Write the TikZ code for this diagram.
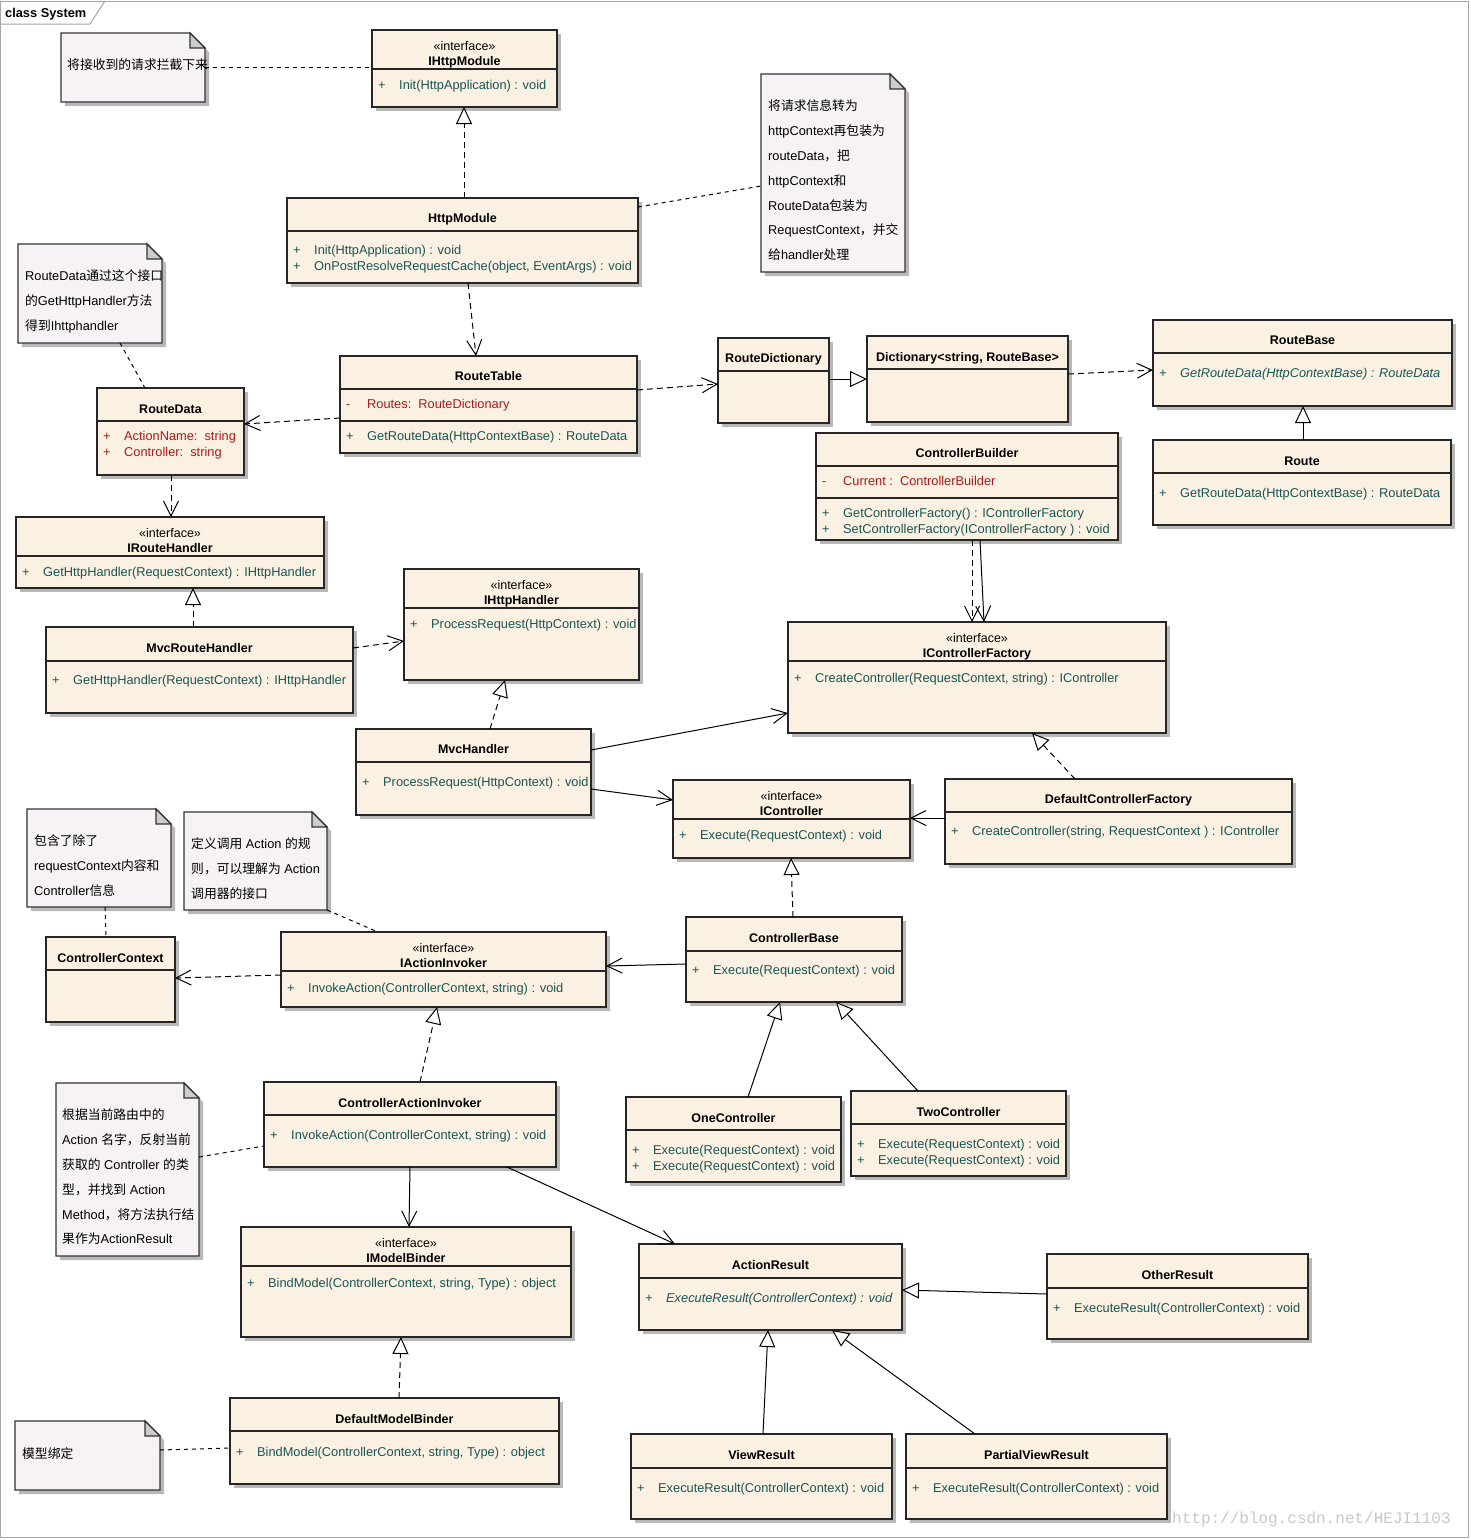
\documentclass[tikz,border=0pt]{standalone}
\usepackage{fontspec}
\setmainfont{Liberation Sans}
\newfontfamily\cjk{Noto Sans CJK SC}
\newfontfamily\wmfont{Liberation Mono}
\usetikzlibrary{arrows.meta,shadows,calc}
\definecolor{boxfill}{RGB}{251,241,226}
\definecolor{notefill}{RGB}{246,242,246}
\definecolor{opcol}{RGB}{25,85,85}
\definecolor{attcol}{RGB}{170,25,25}
\definecolor{foldcol}{RGB}{205,205,205}
\newcommand{\zh}[1]{{\cjk #1}}
\newcounter{lc}
\newcommand{\ucls}[5]{\node[cls,anchor=north west,minimum width={(#4-#2)*1pt},minimum height={(#5-#3)*1pt}] (#1) at (#2,#3) {};}
\newcommand{\hsep}[2]{\draw[sepl] (#1.west |- 0,#2) -- (#1.east |- 0,#2);}
\newcommand{\ctitle}[3]{\stepcounter{lc}\node[ttlst] (l\arabic{lc}) at (#1.north |- 0,#2) {#3};}
\newcommand{\cster}[2]{\stepcounter{lc}\node[sterst] (l\arabic{lc}) at (#1.north |- 0,#2) {«interface»};}
\newcommand{\crow}[5][opst]{\stepcounter{lc}\node[#1] (l\arabic{lc}) at ($(#2.west |- 0,#3)+(6,0)$) {#4};\stepcounter{lc}\node[#1] (l\arabic{lc}) at ($(#2.west |- 0,#3)+(27,0)$) {#5};}
\newcommand{\unote}[5]{%
 \node[inner sep=0pt,outer sep=0pt,anchor=north west,minimum width={(#4-#2)*1pt},minimum height={(#5-#3)*1pt}] (#1) at (#2,#3) {};
 \fill[black,opacity=0.28] ($(#1.north west)+(4,4)$) -- ($(#1.north east)+(-11,4)$) -- ($(#1.north east)+(4,19)$) -- ($(#1.south east)+(4,4)$) -- ($(#1.south west)+(4,4)$) -- cycle;
 \filldraw[notest] (#1.north west) -- ($(#1.north east)+(-15,0)$) -- ($(#1.north east)+(0,15)$) -- (#1.south east) -- (#1.south west) -- cycle;
 \filldraw[notest,fill=foldcol] ($(#1.north east)+(-15,0)$) -- ($(#1.north east)+(-15,15)$) -- ($(#1.north east)+(0,15)$) -- cycle;}
\newcommand{\ntext}[3]{\stepcounter{lc}\node[notetx] (l\arabic{lc}) at (#1,#2) {#3};}
\tikzset{
 cls/.style={draw=black!85,line width=1.2pt,fill=boxfill,inner sep=0pt,outer sep=0pt,
   drop shadow={shadow xshift=4pt,shadow yshift=-4pt,fill=black,opacity=0.28}},
 sepl/.style={draw=black!85,line width=1.2pt},
 ttlst/.style={font=\bfseries\fontsize{12.5}{14}\selectfont,inner sep=0pt,anchor=mid,yshift=-3pt},
 sterst/.style={font=\fontsize{12.5}{14}\selectfont,inner sep=0pt,anchor=mid,yshift=-3pt},
 opst/.style={font=\fontsize{12.8}{14}\selectfont,text=opcol,inner sep=0pt,anchor=mid west,yshift=-3pt},
 opit/.style={opst,font=\itshape\fontsize{12.8}{14}\selectfont},
 attst/.style={opst,text=attcol},
 notest/.style={draw=black!80,line width=1.1pt,fill=notefill},
 notetx/.style={font=\fontsize{12.8}{14}\selectfont,inner sep=0pt,anchor=mid west,text=black,yshift=-3pt},
 dep/.style={line width=1pt,dash pattern=on 6pt off 4pt,-{Straight Barb[length=15pt,width=15pt]}},
 assoc/.style={line width=1pt,-{Straight Barb[length=15pt,width=15pt]}},
 realz/.style={line width=1pt,dash pattern=on 6pt off 4pt,-{Triangle[length=17pt,width=16pt,fill=white]}},
 genz/.style={line width=1pt,-{Triangle[length=17pt,width=16pt,fill=white]}},
 notel/.style={line width=1pt,dash pattern=on 4pt off 4pt},
 framel/.style={draw=black!35,line width=1pt}
}
\begin{document}
\begin{tikzpicture}[x=1pt,y=-1pt]
\useasboundingbox (0,0) rectangle (1471,1540);
% frame
\draw[framel] (0.5,1) rectangle (1468,1537);
\draw[framel] (0.5,24) -- (90,24) -- (105,1);
\node[font=\bfseries\fontsize{12.8}{14}\selectfont,inner sep=0pt,anchor=mid west,yshift=-3pt] (frametitle) at (5,12) {class System};

% ---------- classes ----------
\ucls{ihm}{372}{30}{557}{107}
\cster{ihm}{45}\ctitle{ihm}{60}{IHttpModule}\hsep{ihm}{69}
\crow{ihm}{84}{+}{Init(HttpApplication) : void}

\ucls{hm}{287}{198}{638}{283}
\ctitle{hm}{217}{HttpModule}\hsep{hm}{231}
\crow{hm}{249}{+}{Init(HttpApplication) : void}
\crow{hm}{265}{+}{OnPostResolveRequestCache(object, EventArgs) : void}

\ucls{rt}{340}{356}{637}{453}
\ctitle{rt}{375}{RouteTable}\hsep{rt}{389}
\crow[attst]{rt}{403}{-}{Routes:~~RouteDictionary}\hsep{rt}{421}
\crow{rt}{435}{+}{GetRouteData(HttpContextBase) : RouteData}

\ucls{rd}{97}{388}{244}{475}
\ctitle{rd}{408}{RouteData}\hsep{rd}{421}
\crow[attst]{rd}{435}{+}{ActionName:~~string}
\crow[attst]{rd}{451}{+}{Controller:~~string}

\ucls{rdict}{718}{338}{829}{423}
\ctitle{rdict}{357}{RouteDictionary}\hsep{rdict}{371}

\ucls{dict}{867}{336}{1068}{422}
\ctitle{dict}{356}{Dictionary<string, RouteBase>}\hsep{dict}{369}

\ucls{rb}{1153}{320}{1452}{406}
\ctitle{rb}{339}{RouteBase}\hsep{rb}{353}
\crow[opit]{rb}{372}{+}{GetRouteData(HttpContextBase) : RouteData}

\ucls{route}{1153}{440}{1451}{525}
\ctitle{route}{460}{Route}\hsep{route}{473}
\crow{route}{492}{+}{GetRouteData(HttpContextBase) : RouteData}

\ucls{cb}{816}{433}{1118}{540}
\ctitle{cb}{452}{ControllerBuilder}\hsep{cb}{466}
\crow[attst]{cb}{480}{-}{Current :~~ControllerBuilder}\hsep{cb}{498}
\crow{cb}{512}{+}{GetControllerFactory() : IControllerFactory}
\crow{cb}{528}{+}{SetControllerFactory(IControllerFactory ) : void}

\ucls{irh}{16}{517}{324}{588}
\cster{irh}{532}\ctitle{irh}{547}{IRouteHandler}\hsep{irh}{556}
\crow{irh}{571}{+}{GetHttpHandler(RequestContext) : IHttpHandler}

\ucls{mrh}{46}{627}{353}{713}
\ctitle{mrh}{647}{MvcRouteHandler}\hsep{mrh}{661}
\crow{mrh}{679}{+}{GetHttpHandler(RequestContext) : IHttpHandler}

\ucls{ihh}{404}{569}{639}{680}
\cster{ihh}{584}\ctitle{ihh}{599}{IHttpHandler}\hsep{ihh}{608}
\crow{ihh}{623}{+}{ProcessRequest(HttpContext) : void}

\ucls{mh}{356}{729}{591}{815}
\ctitle{mh}{748}{MvcHandler}\hsep{mh}{762}
\crow{mh}{781}{+}{ProcessRequest(HttpContext) : void}

\ucls{icf}{788}{622}{1166}{733}
\cster{icf}{637}\ctitle{icf}{652}{IControllerFactory}\hsep{icf}{661}
\crow{icf}{677}{+}{CreateController(RequestContext, string) : IController}

\ucls{ic}{673}{780}{910}{858}
\cster{ic}{795}\ctitle{ic}{810}{IController}\hsep{ic}{819}
\crow{ic}{834}{+}{Execute(RequestContext) : void}

\ucls{dcf}{945}{779}{1292}{864}
\ctitle{dcf}{798}{DefaultControllerFactory}\hsep{dcf}{812}
\crow{dcf}{830}{+}{CreateController(string, RequestContext ) : IController}

\ucls{cc}{46}{937}{175}{1022}
\ctitle{cc}{957}{ControllerContext}\hsep{cc}{970}

\ucls{iai}{281}{932}{606}{1007}
\cster{iai}{947}\ctitle{iai}{962}{IActionInvoker}\hsep{iai}{971}
\crow{iai}{987}{+}{InvokeAction(ControllerContext, string) : void}

\ucls{cbase}{686}{917}{902}{1002}
\ctitle{cbase}{937}{ControllerBase}\hsep{cbase}{951}
\crow{cbase}{969}{+}{Execute(RequestContext) : void}

\ucls{onec}{626}{1097}{841}{1182}
\ctitle{onec}{1117}{OneController}\hsep{onec}{1130}
\crow{onec}{1149}{+}{Execute(RequestContext) : void}
\crow{onec}{1165}{+}{Execute(RequestContext) : void}

\ucls{twoc}{851}{1091}{1066}{1176}
\ctitle{twoc}{1111}{TwoController}\hsep{twoc}{1124}
\crow{twoc}{1143}{+}{Execute(RequestContext) : void}
\crow{twoc}{1159}{+}{Execute(RequestContext) : void}

\ucls{cai}{264}{1082}{556}{1167}
\ctitle{cai}{1102}{ControllerActionInvoker}\hsep{cai}{1115}
\crow{cai}{1134}{+}{InvokeAction(ControllerContext, string) : void}

\ucls{imb}{241}{1227}{571}{1337}
\cster{imb}{1242}\ctitle{imb}{1257}{IModelBinder}\hsep{imb}{1266}
\crow{imb}{1282}{+}{BindModel(ControllerContext, string, Type) : object}

\ucls{ar}{639}{1244}{902}{1330}
\ctitle{ar}{1264}{ActionResult}\hsep{ar}{1278}
\crow[opit]{ar}{1297}{+}{ExecuteResult(ControllerContext) : void}

\ucls{other}{1047}{1254}{1308}{1339}
\ctitle{other}{1274}{OtherResult}\hsep{other}{1288}
\crow{other}{1307}{+}{ExecuteResult(ControllerContext) : void}

\ucls{dmb}{230}{1398}{559}{1484}
\ctitle{dmb}{1418}{DefaultModelBinder}\hsep{dmb}{1431}
\crow{dmb}{1451}{+}{BindModel(ControllerContext, string, Type) : object}

\ucls{vr}{631}{1434}{892}{1519}
\ctitle{vr}{1454}{ViewResult}\hsep{vr}{1468}
\crow{vr}{1487}{+}{ExecuteResult(ControllerContext) : void}

\ucls{pvr}{906}{1434}{1167}{1519}
\ctitle{pvr}{1454}{PartialViewResult}\hsep{pvr}{1468}
\crow{pvr}{1487}{+}{ExecuteResult(ControllerContext) : void}

% ---------- notes ----------
\unote{n1}{61}{33}{205}{102}
\ntext{67}{64}{\zh{将接收到的请求拦截下来}}

\unote{n2}{761}{74}{905}{272}
\ntext{768}{105}{\zh{将请求信息转为}}
\ntext{768}{130}{httpContext\zh{再包装为}}
\ntext{768}{155}{routeData\zh{，把}}
\ntext{768}{180}{httpContext\zh{和}}
\ntext{768}{205}{RouteData\zh{包装为}}
\ntext{768}{229}{RequestContext\zh{，并交}}
\ntext{768}{254}{\zh{给}handler\zh{处理}}

\unote{n3}{18}{244}{162}{343}
\ntext{25}{275}{RouteData\zh{通过这个接口}}
\ntext{25}{300}{\zh{的}GetHttpHandler\zh{方法}}
\ntext{25}{325}{\zh{得到}Ihttphandler}

\unote{n4}{27}{809}{171}{907}
\ntext{34}{840}{\zh{包含了除了}}
\ntext{34}{865}{requestContext\zh{内容和}}
\ntext{34}{890}{Controller\zh{信息}}

\unote{n5}{184}{812}{327}{910}
\ntext{191}{843}{\zh{定义调用} Action \zh{的规}}
\ntext{191}{868}{\zh{则，可以理解为} Action}
\ntext{191}{893}{\zh{调用器的接口}}

\unote{n6}{56}{1083}{199}{1256}
\ntext{62}{1114}{\zh{根据当前路由中的}}
\ntext{62}{1139}{Action \zh{名字，反射当前}}
\ntext{62}{1164}{\zh{获取的} Controller \zh{的类}}
\ntext{62}{1189}{\zh{型，并找到} Action}
\ntext{62}{1214}{Method\zh{，将方法执行结}}
\ntext{62}{1238}{\zh{果作为}ActionResult}

\unote{n7}{15}{1421}{160}{1490}
\ntext{22}{1453}{\zh{模型绑定}}

% ---------- connectors ----------
\draw[notel] (n1.east |- 0,67) -- (ihm.west |- 0,67);
\draw[realz] (hm.north -| 464,0) -- (ihm.south -| 464,0);
\draw[notel] (hm.east |- 0,207) -- (n2.west |- 0,186);
\draw[dep] (hm.south -| 468,0) -- (rt.north -| 476,0);
\draw[notel] (n3.south -| 120,0) -- (rd.north -| 145,0);
\draw[dep] (rt.west |- 0,418) -- (rd.east |- 0,424);
\draw[dep] (rt.east |- 0,390) -- (rdict.west |- 0,384);
\draw[genz] (rdict.east |- 0,379) -- (dict.west |- 0,379);
\draw[dep] (dict.east |- 0,374) -- (rb.west |- 0,370);
\draw[genz] (route.north -| 1303,0) -- (rb.south -| 1303,0);
\draw[dep] (rd.south -| 171,0) -- (irh.north -| 171,0);
\draw[realz] (mrh.north -| 193,0) -- (irh.south -| 193,0);
\draw[dep] (mrh.east |- 0,648) -- (ihh.west |- 0,641);
\draw[realz] (mh.north -| 490,0) -- (ihh.south -| 505,0);
\draw[assoc] (mh.east |- 0,750) -- (icf.west |- 0,713);
\draw[assoc] (mh.east |- 0,789) -- (ic.west |- 0,800);
\draw[dep] (cb.south -| 972,0) -- (icf.north -| 972,0);
\draw[assoc] (cb.south -| 980,0) -- (icf.north -| 984,0);
\draw[realz] (dcf.north -| 1075,0) -- (icf.south -| 1032,0);
\draw[assoc] (dcf.west |- 0,818) -- (ic.east |- 0,818);
\draw[realz] (cbase.north -| 793,0) -- (ic.south -| 791,0);
\draw[assoc] (cbase.west |- 0,964) -- (iai.east |- 0,966);
\draw[notel] (n4.south -| 105,0) -- (cc.north -| 106,0);
\draw[notel] (n5.south east) -- (iai.north -| 378,0);
\draw[dep] (iai.west |- 0,975) -- (cc.east |- 0,978);
\draw[genz] (onec.north -| 748,0) -- (cbase.south -| 780,0);
\draw[genz] (twoc.north -| 918,0) -- (cbase.south -| 836,0);
\draw[realz] (cai.north -| 420,0) -- (iai.south -| 437,0);
\draw[notel] (n6.east |- 0,1157) -- (cai.west |- 0,1146);
\draw[assoc] (cai.south -| 410,0) -- (imb.north -| 409,0);
\draw[assoc] (cai.south -| 507,0) -- (ar.north -| 675,0);
\draw[realz] (dmb.north -| 399,0) -- (imb.south -| 401,0);
\draw[notel] (n7.east |- 0,1450) -- (dmb.west |- 0,1448);
\draw[genz] (other.west |- 0,1294) -- (ar.east |- 0,1290);
\draw[genz] (vr.north -| 763,0) -- (ar.south -| 768,0);
\draw[genz] (pvr.north -| 975,0) -- (ar.south -| 832,0);

% watermark
\node[font=\wmfont\fontsize{16}{18}\selectfont,text=black!22,anchor=mid west,inner sep=0pt] (wm) at (1172,1521) {http://blog.csdn.net/HEJI1103};
\end{tikzpicture}
\end{document}
